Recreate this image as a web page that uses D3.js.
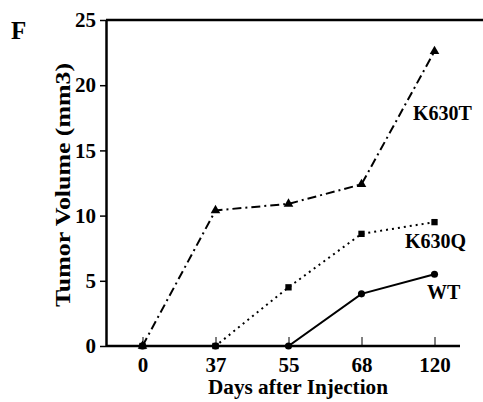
<!DOCTYPE html>
<html>
<head>
<meta charset="utf-8">
<script src="https://cdn.jsdelivr.net/npm/d3@7"></script>
<style>
  body { margin: 0; background: #fff; }
  text { font-family: "Liberation Serif", "Times New Roman", serif; font-weight: bold; fill: #000; }
</style>
</head>
<body>
<svg id="chart" width="483" height="402"></svg>
<script>
// days after injection (categories on x)
const days = ["0", "37", "55", "68", "120"];
const yTicks = [0, 5, 10, 15, 20, 25];

// tumor volume (mm3)
const wt    = [0, 0, 0, 4.0, 5.5];
const k630q = [0, 0, 4.5, 8.6, 9.5];
const k630t = [0, 10.4, 10.9, 12.4, 22.6];

const series = [
    {name: "K630T", values: k630t, dash: "9,4,2,4", marker: "triangle", label: [413, 120]},
    {name: "K630Q", values: k630q, dash: "2,4", marker: "square", label: [405, 248]},
    {name: "WT", values: wt, dash: null, marker: "circle", label: [427, 299]}
];

const svg = d3.select("#chart");
const MARGINS = {top: 20, left: 106, bottom: 346};

const x = d3.scalePoint()
    .domain(days)
    .range([MARGINS.left, 471])
    .padding(0.5);

const y = d3.scaleLinear()
    .domain([0, 25])
    .range([MARGINS.bottom, MARGINS.top]);

// frame: top line, left axis, bottom axis
svg.append("line")
    .attr("x1", MARGINS.left).attr("x2", 483)
    .attr("y1", y(25)).attr("y2", y(25))
    .attr("stroke", "#000").attr("stroke-width", 2.5);

let yAxis = svg.append("g")
    .attr("transform", "translate(" + MARGINS.left + ",0)")
    .call(d3.axisLeft(y).tickValues(yTicks).tickSize(6).tickSizeOuter(0).tickPadding(4));
yAxis.select(".domain").attr("stroke-width", 2.5);
yAxis.selectAll(".tick line").attr("stroke-width", 1.5);
yAxis.selectAll(".tick text")
    .style("font-family", "'Liberation Serif', serif")
    .style("font-size", "21px");

let xAxis = svg.append("g")
    .attr("transform", "translate(0," + MARGINS.bottom + ")")
    .call(d3.axisBottom(x).tickSize(0).tickPadding(9));
xAxis.select(".domain").attr("d", "M" + MARGINS.left + ",0H460").attr("stroke-width", 2.5);
xAxis.selectAll(".tick text")
    .style("font-family", "'Liberation Serif', serif")
    .style("font-size", "21px")
    .attr("dy", "0.8em");
xAxis.selectAll(".tick").append("line")
    .attr("y1", 0).attr("y2", -9)
    .attr("stroke", "#000").attr("stroke-width", 1);

// lines
let line = d3.line()
    .x(function(d, i) { return x(days[i]); })
    .y(function(d) { return y(d); });

let symbols = {
    triangle: d3.symbol().type(d3.symbolTriangle).size(40),
    square: d3.symbol().type(d3.symbolSquare).size(40),
    circle: d3.symbol().type(d3.symbolCircle).size(40)
};

series.forEach(function(s) {
    svg.append("path")
        .attr("d", line(s.values))
        .attr("fill", "none")
        .attr("stroke", "#000")
        .attr("stroke-width", 2)
        .attr("stroke-dasharray", s.dash);

    svg.selectAll(".m-" + s.name)
        .data(s.values)
        .enter().append("path")
        .attr("class", "m-" + s.name)
        .attr("transform", function(d, i) { return "translate(" + x(days[i]) + "," + y(d) + ")"; })
        .attr("d", symbols[s.marker])
        .attr("fill", "#000");

    svg.append("text")
        .attr("x", s.label[0]).attr("y", s.label[1])
        .style("font-size", "20px")
        .text(s.name);
});

// titles
svg.append("text")
    .attr("x", 11).attr("y", 39)
    .style("font-size", "25px")
    .text("F");

svg.append("text")
    .attr("transform", "translate(70,185) rotate(-90)")
    .attr("text-anchor", "middle")
    .attr("textLength", 244)
    .attr("lengthAdjust", "spacingAndGlyphs")
    .style("font-size", "21px")
    .text("Tumor Volume (mm3)");

svg.append("text")
    .attr("x", 298).attr("y", 394)
    .attr("text-anchor", "middle")
    .attr("textLength", 180)
    .attr("lengthAdjust", "spacingAndGlyphs")
    .style("font-size", "20px")
    .text("Days after Injection");
</script>
</body>
</html>
